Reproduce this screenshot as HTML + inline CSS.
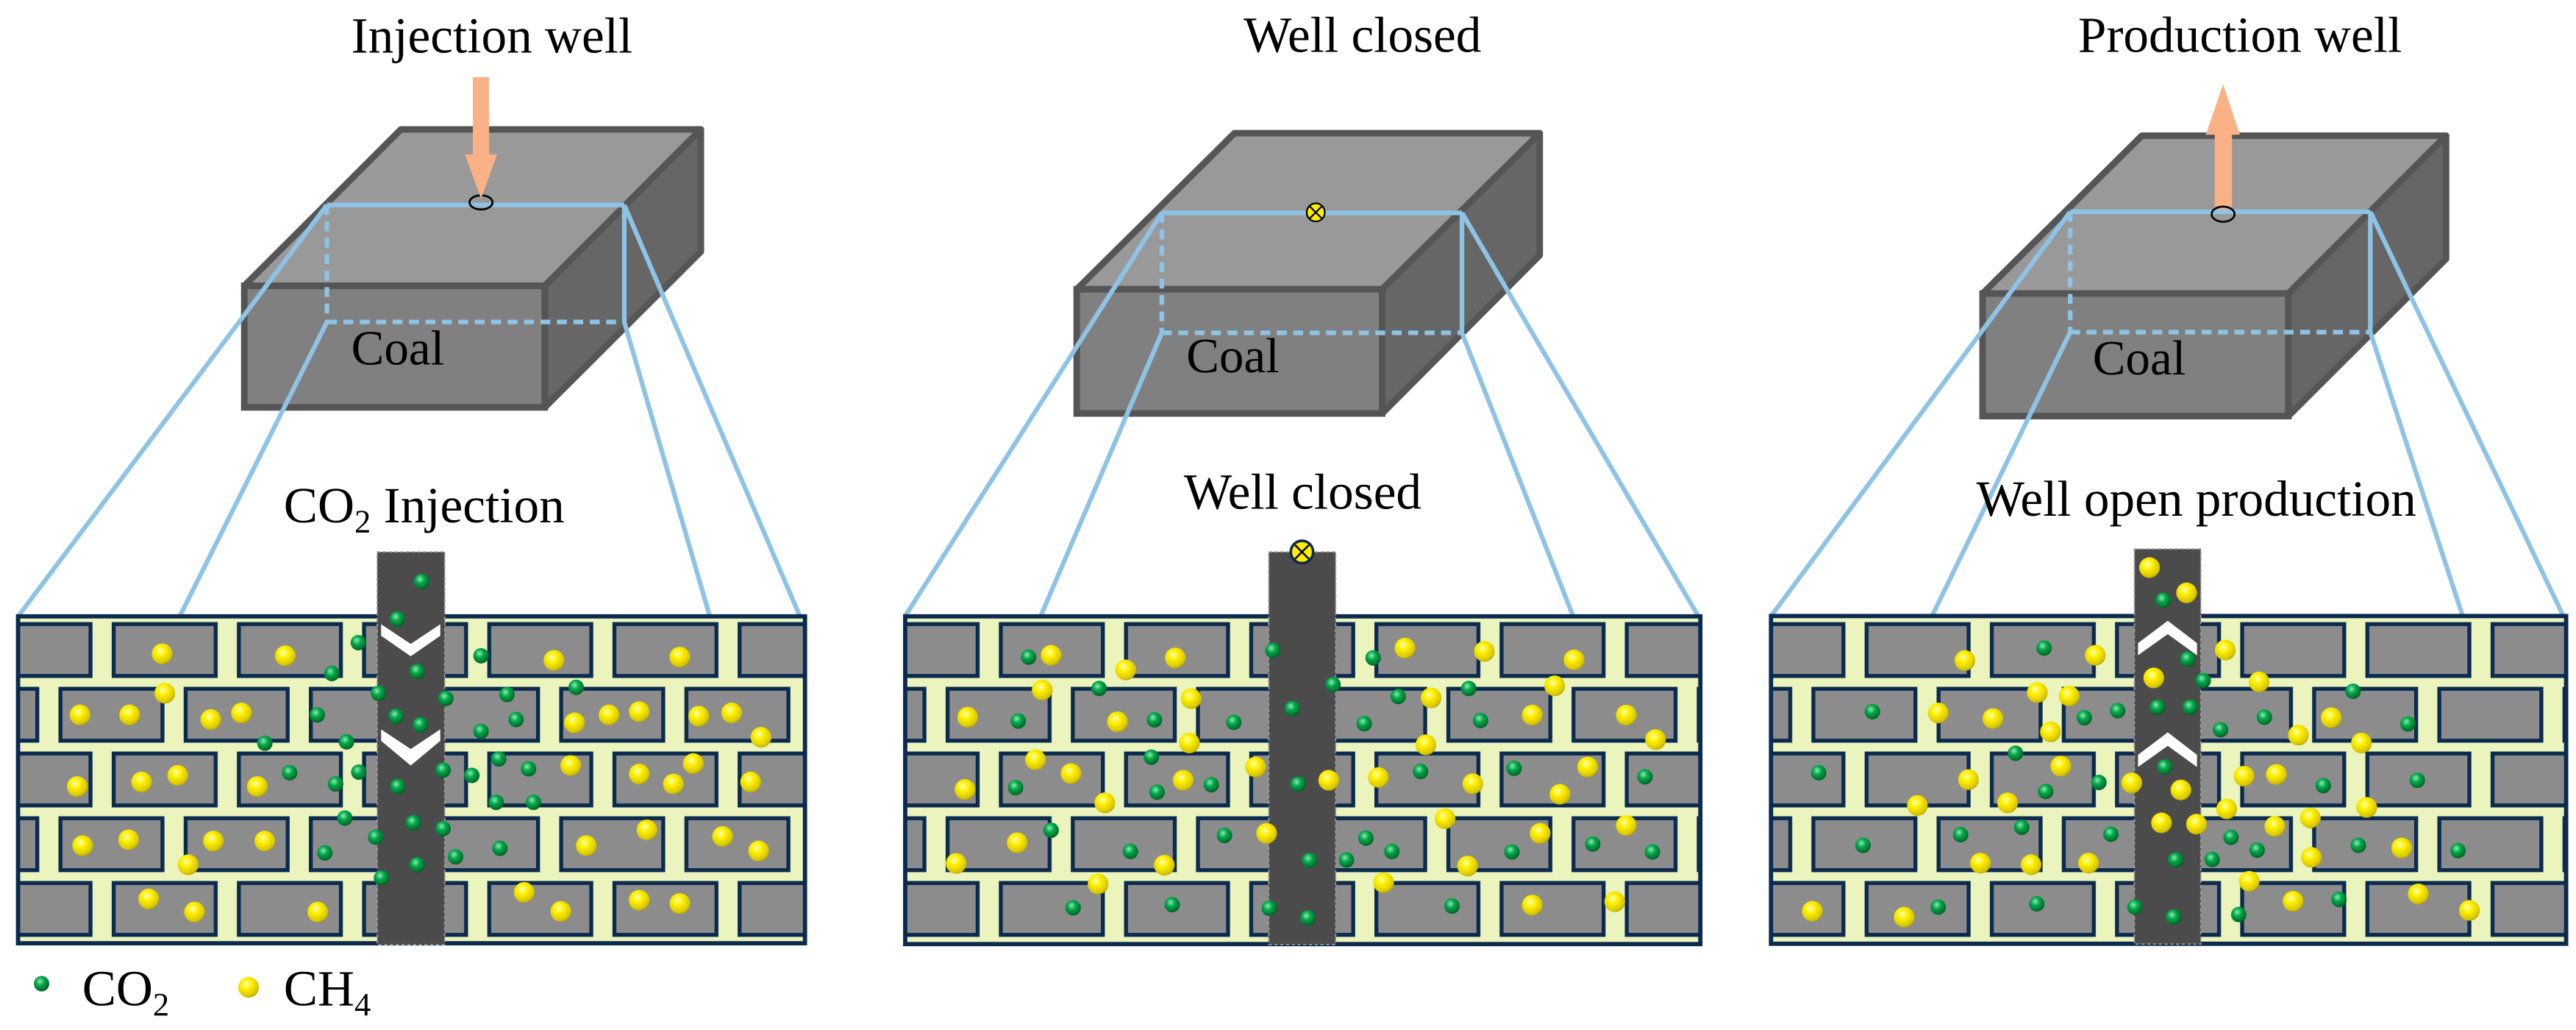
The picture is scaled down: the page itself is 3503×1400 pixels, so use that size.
<!DOCTYPE html>
<html><head><meta charset="utf-8"><style>
html,body{margin:0;padding:0;background:#fff;}
svg{display:block;}
svg text{font-family:"Liberation Serif","Times New Roman",serif;fill:#000;}
</style></head><body>
<svg width="3503" height="1400" viewBox="0 0 1568 627" preserveAspectRatio="none" xmlns="http://www.w3.org/2000/svg" font-family="Liberation Serif, serif">
<defs>
<radialGradient id="gy" cx="0.4" cy="0.35" r="0.7">
<stop offset="0" stop-color="#ffffb8"/><stop offset="0.35" stop-color="#fff000"/><stop offset="0.85" stop-color="#d6c400"/><stop offset="1" stop-color="#a89400"/></radialGradient>
<radialGradient id="gg" cx="0.4" cy="0.35" r="0.7">
<stop offset="0" stop-color="#90eab0"/><stop offset="0.4" stop-color="#00a84a"/><stop offset="1" stop-color="#005a22"/></radialGradient>
<circle id="Y" r="6.3" fill="url(#gy)"/>
<circle id="G" r="4.7" fill="url(#gg)"/>
<pattern id="b1" patternUnits="userSpaceOnUse" x="-8.2" y="378.7" width="76.2" height="78.8">
<rect x="1.2" y="1.2" width="62.1" height="31.6" fill="#8c8c8c" stroke="#0b2a4f" stroke-width="2.4"/>
<rect x="45" y="40.6" width="62.1" height="31.6" fill="#8c8c8c" stroke="#0b2a4f" stroke-width="2.4"/>
<rect x="-31.2" y="40.6" width="62.1" height="31.6" fill="#8c8c8c" stroke="#0b2a4f" stroke-width="2.4"/>
</pattern>
<pattern id="b2" patternUnits="userSpaceOnUse" x="531.8" y="378.7" width="76.2" height="78.8">
<rect x="1.2" y="1.2" width="62.1" height="31.6" fill="#8c8c8c" stroke="#0b2a4f" stroke-width="2.4"/>
<rect x="45" y="40.6" width="62.1" height="31.6" fill="#8c8c8c" stroke="#0b2a4f" stroke-width="2.4"/>
<rect x="-31.2" y="40.6" width="62.1" height="31.6" fill="#8c8c8c" stroke="#0b2a4f" stroke-width="2.4"/>
</pattern>
<pattern id="b3" patternUnits="userSpaceOnUse" x="1058.8" y="378.7" width="76.2" height="78.8">
<rect x="1.2" y="1.2" width="62.1" height="31.6" fill="#8c8c8c" stroke="#0b2a4f" stroke-width="2.4"/>
<rect x="45" y="40.6" width="62.1" height="31.6" fill="#8c8c8c" stroke="#0b2a4f" stroke-width="2.4"/>
<rect x="-31.2" y="40.6" width="62.1" height="31.6" fill="#8c8c8c" stroke="#0b2a4f" stroke-width="2.4"/>
</pattern>
</defs>

<!-- ============ PANEL 1 ============ -->
<g>
<polygon points="148.7,174 244,78.8 426.6,78.8 331.6,174" fill="#999" stroke="#555" stroke-width="4" stroke-linejoin="round"/>
<polygon points="331.6,174 426.6,78.8 426.6,153.2 331.6,248" fill="#666" stroke="#555" stroke-width="4" stroke-linejoin="round"/>
<rect x="148.7" y="174" width="182.9" height="74" fill="#808080" stroke="#555" stroke-width="4"/>
<g stroke="#8ec3e6" stroke-width="2.8" fill="none">
<line x1="199" y1="124.8" x2="380" y2="124.8"/>
<line x1="199" y1="124.8" x2="199" y2="196" stroke-dasharray="6,4"/>
<line x1="199" y1="196" x2="380" y2="196" stroke-dasharray="6,4"/>
<line x1="380" y1="124.8" x2="380" y2="196"/>
<line x1="199" y1="124.8" x2="11.2" y2="375"/>
<line x1="199" y1="196" x2="109.5" y2="375"/>
<line x1="380" y1="124.8" x2="486.8" y2="375"/>
<line x1="380" y1="196" x2="432" y2="375"/>
</g>
<ellipse cx="292.8" cy="123.2" rx="7" ry="4.3" fill="none" stroke="#000" stroke-width="1.2"/>
<rect x="287.8" y="47" width="9.9" height="48" fill="#fbb186"/>
<polygon points="283,94 302.6,94 292.8,121" fill="#fbb186"/>
<text x="213.8" y="32" font-size="31" font-family="Liberation Serif, serif">Injection well</text>
<text x="213.8" y="222" font-size="30" font-family="Liberation Serif, serif">Coal</text>
<text x="172.7" y="318" font-size="31" font-family="Liberation Serif, serif">CO<tspan font-size="20" dy="6">2</tspan><tspan dy="-6"> Injection</tspan></text>

<rect x="11" y="375.2" width="479" height="199" fill="#eaf4bc"/>
<rect x="11" y="375.2" width="479" height="199" fill="url(#b1)"/>
<rect x="11" y="375.2" width="479" height="199" fill="none" stroke="#0b2a4f" stroke-width="2.6"/>
<rect x="229.6" y="336" width="41.1" height="239" fill="#4b4b4b" stroke="#9a9a9a" stroke-width="0.8" stroke-dasharray="2,1.5"/>
<polygon points="232,380 250,392 268,380 268,387 250,399.5 232,387" fill="#fff"/>
<polygon points="232,444 250,456 268,444 268,451 250,466 232,451" fill="#fff"/>
<g>
<use href="#Y" x="98.7" y="398"/><use href="#Y" x="173.7" y="399.2"/><use href="#Y" x="337.2" y="402"/><use href="#Y" x="413.8" y="400"/><use href="#Y" x="100.3" y="422"/><use href="#Y" x="48.7" y="435.2"/><use href="#Y" x="78.9" y="435.2"/><use href="#Y" x="128.3" y="438"/><use href="#Y" x="147" y="434"/><use href="#Y" x="349.7" y="440"/><use href="#Y" x="370.7" y="435.2"/><use href="#Y" x="389.1" y="433.2"/><use href="#Y" x="425.3" y="436"/><use href="#Y" x="445.4" y="434"/><use href="#Y" x="463.2" y="448.8"/><use href="#Y" x="47" y="478.8"/><use href="#Y" x="86.2" y="476"/><use href="#Y" x="108.2" y="472"/><use href="#Y" x="156.6" y="478.8"/><use href="#Y" x="347.4" y="466"/><use href="#Y" x="389.1" y="471.2"/><use href="#Y" x="409.9" y="477.2"/><use href="#Y" x="422" y="464.8"/><use href="#Y" x="456.9" y="476"/><use href="#Y" x="50.3" y="514.8"/><use href="#Y" x="78.3" y="511.2"/><use href="#Y" x="129.9" y="512"/><use href="#Y" x="161.2" y="512"/><use href="#Y" x="114.5" y="526.4"/><use href="#Y" x="356.9" y="514.8"/><use href="#Y" x="393.8" y="505.2"/><use href="#Y" x="439.8" y="509.2"/><use href="#Y" x="461.8" y="518"/><use href="#Y" x="90.5" y="547.2"/><use href="#Y" x="118.4" y="555.2"/><use href="#Y" x="193.4" y="555.2"/><use href="#Y" x="319.1" y="543.2"/><use href="#Y" x="341.4" y="554.8"/><use href="#Y" x="389.1" y="548"/><use href="#Y" x="413.8" y="550"/>
<use href="#G" x="256.6" y="354"/><use href="#G" x="241.8" y="376.8"/><use href="#G" x="218.1" y="391.2"/><use href="#G" x="202" y="410"/><use href="#G" x="253.9" y="408.8"/><use href="#G" x="292.8" y="399.2"/><use href="#G" x="230.3" y="422"/><use href="#G" x="271.4" y="425.2"/><use href="#G" x="308.6" y="422.8"/><use href="#G" x="350.7" y="418.4"/><use href="#G" x="193.1" y="435.2"/><use href="#G" x="241.1" y="436"/><use href="#G" x="255.9" y="441.2"/><use href="#G" x="314.1" y="438"/><use href="#G" x="292.8" y="445.2"/><use href="#G" x="161.2" y="452.4"/><use href="#G" x="210.9" y="451.6"/><use href="#G" x="303.6" y="462"/><use href="#G" x="176.3" y="470.4"/><use href="#G" x="218.4" y="470"/><use href="#G" x="269.7" y="468.8"/><use href="#G" x="287.2" y="472"/><use href="#G" x="321.7" y="468"/><use href="#G" x="204.3" y="477.2"/><use href="#G" x="242.1" y="478.8"/><use href="#G" x="302" y="488.4"/><use href="#G" x="324.7" y="488.4"/><use href="#G" x="209.9" y="498"/><use href="#G" x="251.6" y="500.8"/><use href="#G" x="228.6" y="509.6"/><use href="#G" x="269.7" y="504.4"/><use href="#G" x="197.7" y="519.2"/><use href="#G" x="304.3" y="516.4"/><use href="#G" x="277.3" y="521.6"/><use href="#G" x="253.9" y="526.4"/><use href="#G" x="232.2" y="534.4"/>
</g>
</g>

<!-- ============ PANEL 2 ============ -->
<g>
<polygon points="655.4,176.1 751.4,81.1 937.2,81.1 841.3,176.1" fill="#999" stroke="#555" stroke-width="4" stroke-linejoin="round"/>
<polygon points="841.3,176.1 937.2,81.1 937.2,155.4 841.3,251.7" fill="#666" stroke="#555" stroke-width="4" stroke-linejoin="round"/>
<rect x="655.4" y="176.1" width="185.9" height="75.6" fill="#808080" stroke="#555" stroke-width="4"/>
<g stroke="#8ec3e6" stroke-width="2.8" fill="none">
<line x1="707.2" y1="129.6" x2="889.9" y2="129.6"/>
<line x1="707.2" y1="129.6" x2="707.2" y2="202.6" stroke-dasharray="6,4"/>
<line x1="707.2" y1="202.6" x2="889.9" y2="202.6" stroke-dasharray="6,4"/>
<line x1="889.9" y1="129.6" x2="889.9" y2="202.6"/>
<line x1="707.2" y1="129.6" x2="551" y2="375"/>
<line x1="707.2" y1="202.6" x2="633.5" y2="375"/>
<line x1="889.9" y1="129.6" x2="1033.7" y2="375"/>
<line x1="889.9" y1="202.6" x2="957.5" y2="375"/>
</g>
<circle cx="800.9" cy="129.3" r="5.5" fill="#ffee00" stroke="#000" stroke-width="1"/>
<path d="M797.2,125.6 L804.6,133 M804.6,125.6 L797.2,133" stroke="#000" stroke-width="1"/>
<text x="757" y="31.5" font-size="31" font-family="Liberation Serif, serif">Well closed</text>
<text x="722.1" y="226.7" font-size="30" font-family="Liberation Serif, serif">Coal</text>
<text x="720.6" y="309.8" font-size="31" font-family="Liberation Serif, serif">Well closed</text>

<rect x="551" y="375.2" width="484" height="199.5" fill="#eaf4bc"/>
<rect x="551" y="375.2" width="484" height="199.5" fill="url(#b2)"/>
<rect x="551" y="375.2" width="484" height="199.5" fill="none" stroke="#0b2a4f" stroke-width="2.6"/>
<rect x="772.3" y="336" width="40.7" height="239" fill="#4b4b4b" stroke="#9a9a9a" stroke-width="0.8" stroke-dasharray="2,1.5"/>
<circle cx="792.5" cy="336" r="6.8" fill="#ffee00" stroke="#0b2a4f" stroke-width="1.6"/>
<path d="M788.3,331.8 L796.7,340.2 M796.7,331.8 L788.3,340.2" stroke="#000" stroke-width="1.1"/>
<g>
<use href="#Y" x="639.8" y="398.9"/><use href="#Y" x="715.4" y="400.5"/><use href="#Y" x="685.2" y="407.8"/><use href="#Y" x="855.2" y="394.5"/><use href="#Y" x="903.5" y="396.5"/><use href="#Y" x="958.1" y="401.7"/><use href="#Y" x="634.4" y="420"/><use href="#Y" x="725" y="425.3"/><use href="#Y" x="946.3" y="417.5"/><use href="#Y" x="871.1" y="424.8"/><use href="#Y" x="589" y="436.6"/><use href="#Y" x="680.2" y="439.4"/><use href="#Y" x="932.7" y="435.3"/><use href="#Y" x="989.9" y="435.3"/><use href="#Y" x="1007.7" y="450.2"/><use href="#Y" x="724" y="452.3"/><use href="#Y" x="867.9" y="453.4"/><use href="#Y" x="630.3" y="462.5"/><use href="#Y" x="651.9" y="470.9"/><use href="#Y" x="587.4" y="480.6"/><use href="#Y" x="720.2" y="475"/><use href="#Y" x="764.3" y="466.9"/><use href="#Y" x="808.8" y="475"/><use href="#Y" x="839" y="473.3"/><use href="#Y" x="896.5" y="477.1"/><use href="#Y" x="966.4" y="466.9"/><use href="#Y" x="949.5" y="483.5"/><use href="#Y" x="672.5" y="488.7"/><use href="#Y" x="879.6" y="498.4"/><use href="#Y" x="771" y="507.3"/><use href="#Y" x="619.2" y="513"/><use href="#Y" x="937.5" y="507.3"/><use href="#Y" x="989.9" y="502.5"/><use href="#Y" x="582" y="525.6"/><use href="#Y" x="708.7" y="526.7"/><use href="#Y" x="893.3" y="527.2"/><use href="#Y" x="668.4" y="538.1"/><use href="#Y" x="842.2" y="537.3"/><use href="#Y" x="932.7" y="551"/><use href="#Y" x="982.9" y="548.9"/>
<use href="#G" x="626.1" y="400"/><use href="#G" x="774.8" y="396"/><use href="#G" x="835.8" y="400.5"/><use href="#G" x="811.4" y="416.7"/><use href="#G" x="669" y="419.1"/><use href="#G" x="851.1" y="424"/><use href="#G" x="894" y="419.1"/><use href="#G" x="786.6" y="431.3"/><use href="#G" x="619.8" y="438.9"/><use href="#G" x="702.7" y="438.2"/><use href="#G" x="751" y="439.7"/><use href="#G" x="830.4" y="440.5"/><use href="#G" x="901.2" y="438.6"/><use href="#G" x="700.8" y="460.9"/><use href="#G" x="864.7" y="469.6"/><use href="#G" x="921.6" y="467.7"/><use href="#G" x="618.2" y="479.5"/><use href="#G" x="704.3" y="482.2"/><use href="#G" x="737.3" y="477.7"/><use href="#G" x="790.1" y="477.4"/><use href="#G" x="1001.3" y="472.9"/><use href="#G" x="639.8" y="505.4"/><use href="#G" x="745.3" y="508.6"/><use href="#G" x="831.4" y="510.2"/><use href="#G" x="688.1" y="518.3"/><use href="#G" x="847.2" y="518.3"/><use href="#G" x="920.3" y="518.6"/><use href="#G" x="969.5" y="513.8"/><use href="#G" x="1005.8" y="518.6"/><use href="#G" x="797.1" y="523.8"/><use href="#G" x="819.6" y="523.5"/><use href="#G" x="653.2" y="552.6"/><use href="#G" x="713.5" y="550.7"/><use href="#G" x="772.6" y="552.9"/><use href="#G" x="796.1" y="558.8"/><use href="#G" x="883.8" y="551.5"/>
</g>
</g>

<!-- ============ PANEL 3 ============ -->
<g>
<polygon points="1206.8,178.7 1303.7,82.6 1488.9,82.6 1392.9,178.7" fill="#999" stroke="#555" stroke-width="4" stroke-linejoin="round"/>
<polygon points="1392.9,178.7 1488.9,82.6 1488.9,157.6 1392.9,253.3" fill="#666" stroke="#555" stroke-width="4" stroke-linejoin="round"/>
<rect x="1206.8" y="178.7" width="186.1" height="74.6" fill="#808080" stroke="#555" stroke-width="4"/>
<rect x="1348.1" y="80" width="10.5" height="49" fill="#fbb186"/>
<polygon points="1342.7,82 1363.4,82 1353.2,51.1" fill="#fbb186"/>
<g stroke="#8ec3e6" stroke-width="2.8" fill="none">
<line x1="1260.1" y1="128.9" x2="1442.8" y2="128.9"/>
<line x1="1260.1" y1="128.9" x2="1260.1" y2="202.2" stroke-dasharray="6,4"/>
<line x1="1260.1" y1="202.2" x2="1442.8" y2="202.2" stroke-dasharray="6,4"/>
<line x1="1442.8" y1="128.9" x2="1442.8" y2="202.2"/>
<line x1="1260.1" y1="128.9" x2="1078.1" y2="375"/>
<line x1="1260.1" y1="202.2" x2="1176" y2="375"/>
<line x1="1442.8" y1="128.9" x2="1560.3" y2="375"/>
<line x1="1442.8" y1="202.2" x2="1499" y2="375"/>
</g>
<ellipse cx="1353.2" cy="130.4" rx="7" ry="4.6" fill="none" stroke="#000" stroke-width="1.2"/>
<text x="1264.9" y="31.5" font-size="31" font-family="Liberation Serif, serif">Production well</text>
<text x="1273.8" y="228" font-size="30" font-family="Liberation Serif, serif">Coal</text>
<text x="1203" y="314" font-size="31" font-family="Liberation Serif, serif">Well open production</text>

<rect x="1078" y="375" width="484" height="199.5" fill="#eaf4bc"/>
<rect x="1078" y="375" width="484" height="199.5" fill="url(#b3)"/>
<rect x="1078" y="375" width="484" height="199.5" fill="none" stroke="#0b2a4f" stroke-width="2.6"/>
<rect x="1299.2" y="334.2" width="40.4" height="240.5" fill="#4b4b4b" stroke="#9a9a9a" stroke-width="0.8" stroke-dasharray="2,1.5"/>
<polygon points="1301.4,398.9 1319.5,386 1337.3,398.9 1337.3,391.5 1319.5,377.9 1301.4,391.5" fill="#fff"/>
<polygon points="1301.4,466.9 1319.5,454 1337.3,466.9 1337.3,459.5 1319.5,445.8 1301.4,459.5" fill="#fff"/>
<g>
<use href="#Y" x="1308.4" y="345.5"/><use href="#Y" x="1331" y="360.9"/><use href="#Y" x="1196" y="402.1"/><use href="#Y" x="1275.4" y="398.9"/><use href="#Y" x="1354.5" y="395.7"/><use href="#Y" x="1311" y="412.7"/><use href="#Y" x="1375.1" y="415.1"/><use href="#Y" x="1240.1" y="421.6"/><use href="#Y" x="1259.5" y="423.7"/><use href="#Y" x="1179.8" y="434"/><use href="#Y" x="1213.1" y="437.4"/><use href="#Y" x="1248.1" y="445.5"/><use href="#Y" x="1419" y="436.9"/><use href="#Y" x="1399" y="447.5"/><use href="#Y" x="1437.4" y="452.3"/><use href="#Y" x="1254.4" y="466.4"/><use href="#Y" x="1198.2" y="474.6"/><use href="#Y" x="1297.6" y="476.6"/><use href="#Y" x="1327.5" y="480.9"/><use href="#Y" x="1365.9" y="472.5"/><use href="#Y" x="1385.6" y="471.4"/><use href="#Y" x="1167.1" y="490.3"/><use href="#Y" x="1222" y="488.7"/><use href="#Y" x="1355.4" y="492.4"/><use href="#Y" x="1406.3" y="497.9"/><use href="#Y" x="1440.6" y="491.5"/><use href="#Y" x="1315.7" y="500.9"/><use href="#Y" x="1337" y="501.7"/><use href="#Y" x="1384.7" y="503"/><use href="#Y" x="1406.9" y="521.9"/><use href="#Y" x="1461.9" y="516.2"/><use href="#Y" x="1205.5" y="525.4"/><use href="#Y" x="1236.3" y="526.4"/><use href="#Y" x="1271.3" y="525.4"/><use href="#Y" x="1369.1" y="536.5"/><use href="#Y" x="1395.8" y="548.6"/><use href="#Y" x="1472" y="544.2"/><use href="#Y" x="1503.1" y="554.2"/><use href="#Y" x="1103.2" y="554.7"/><use href="#Y" x="1159.1" y="558.3"/>
<use href="#G" x="1316.7" y="365.4"/><use href="#G" x="1244.2" y="394.5"/><use href="#G" x="1331.6" y="401.3"/><use href="#G" x="1341.1" y="414.3"/><use href="#G" x="1432.3" y="420.8"/><use href="#G" x="1139.7" y="433.2"/><use href="#G" x="1268.7" y="436.9"/><use href="#G" x="1289" y="432.6"/><use href="#G" x="1313.2" y="430.5"/><use href="#G" x="1333.2" y="430.5"/><use href="#G" x="1378.3" y="436.6"/><use href="#G" x="1351.6" y="444.2"/><use href="#G" x="1465.7" y="440.7"/><use href="#G" x="1226.8" y="458.5"/><use href="#G" x="1107" y="470.4"/><use href="#G" x="1317.6" y="466.9"/><use href="#G" x="1277.6" y="476.3"/><use href="#G" x="1245.2" y="481.8"/><use href="#G" x="1414.2" y="478.2"/><use href="#G" x="1471.4" y="475"/><use href="#G" x="1230.6" y="503.6"/><use href="#G" x="1193.4" y="508.1"/><use href="#G" x="1284.9" y="507.8"/><use href="#G" x="1358" y="509.7"/><use href="#G" x="1373.9" y="517.5"/><use href="#G" x="1435.5" y="514.6"/><use href="#G" x="1496.2" y="517.8"/><use href="#G" x="1134" y="514.6"/><use href="#G" x="1324.3" y="523.5"/><use href="#G" x="1346.5" y="523.2"/><use href="#G" x="1179.8" y="552.2"/><use href="#G" x="1239.8" y="550.2"/><use href="#G" x="1299.5" y="552.2"/><use href="#G" x="1323" y="558.3"/><use href="#G" x="1362.7" y="556.7"/><use href="#G" x="1423.7" y="547.5"/>
</g>
</g>

<!-- Legend -->
<use href="#G" x="25.3" y="598.8"/>
<text x="50" y="612" font-size="31" font-family="Liberation Serif, serif">CO<tspan font-size="20" dy="6">2</tspan></text>
<use href="#Y" x="151.3" y="601"/>
<text x="172.7" y="612" font-size="31" font-family="Liberation Serif, serif">CH<tspan font-size="20" dy="6">4</tspan></text>
</svg>
</body></html>
